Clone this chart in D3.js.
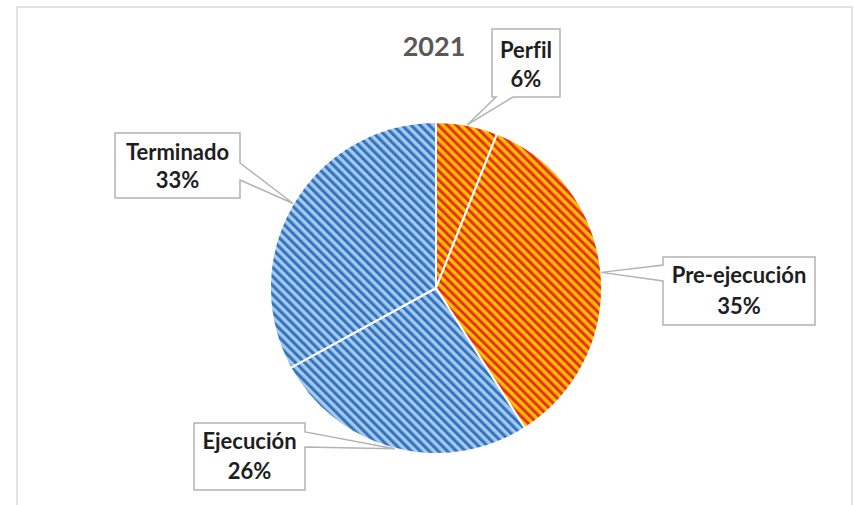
<!DOCTYPE html>
<html><head><meta charset="utf-8">
<script src="https://cdn.jsdelivr.net/npm/d3@7"></script>
<style>html,body{margin:0;padding:0;background:#fff;}svg{display:block;}text{font-variant-ligatures:none;font-feature-settings:"liga" 0;}</style>
</head><body>
<svg id="chart" width="854" height="505"></svg>
<script>
// ---- data ----
const title = "2021";
const categories = ["Perfil", "Pre-ejecución", "Ejecución", "Terminado"];
const values = [6, 35, 26, 33];
const valueLabels = ["6%", "35%", "26%", "33%"];

// ---- layout / style (not data) ----
const W = 854, H = 505;
const cx = 436, cy = 288, R = 166;
const fills = [
  {bg: "#ffc000", fg: "#e9301e"},
  {bg: "#ffc000", fg: "#e9301e"},
  {bg: "#a9c8ec", fg: "#2f76c2"},
  {bg: "#a9c8ec", fg: "#2f76c2"}
];
// callout boxes: x0,x1,y0,y1, wedge side and base span
const boxes = [
  {x0: 492, x1: 560, y0: 29, y1: 97, side: "bottom", a: 496, b: 513, l1: 58, l2: 87},
  {x0: 663, x1: 815, y0: 257, y1: 325, side: "left", a: 265, b: 281, l1: 283, l2: 314},
  {x0: 194, x1: 305, y0: 423, y1: 490, side: "right", a: 432, b: 447, l1: 449, l2: 479},
  {x0: 115, x1: 240, y0: 133, y1: 198, side: "right", a: 163, b: 180, l1: 160, l2: 188}
];

const svg = d3.select("#chart");
const defs = svg.append("defs");
const P = 6.4;
fills.forEach((f, i) => {
  const p = defs.append("pattern").attr("id", "pat" + i)
    .attr("patternUnits", "userSpaceOnUse").attr("width", P).attr("height", 10)
    .attr("patternTransform", "rotate(-45)");
  p.append("rect").attr("width", P).attr("height", 10).attr("fill", f.bg);
  p.append("rect").attr("width", P * 0.48).attr("height", 10).attr("fill", f.fg);
});

svg.append("rect").attr("width", W).attr("height", H).attr("fill", "#fff");
// chart area border
svg.append("rect").attr("x", 17).attr("y", 7).attr("width", 835).attr("height", 520)
  .attr("fill", "none").attr("stroke", "#d9d9d9").attr("stroke-width", 1.5);

// title
svg.append("text").attr("x", 434).attr("y", 56).attr("text-anchor", "middle")
  .attr("font-family", "Lato, 'Open Sans', sans-serif").attr("font-weight", 700)
  .attr("font-size", 27).attr("fill", "#595959").text(title);

const pie = d3.pie().sort(null).value(d => d)(values);
const arc = d3.arc().innerRadius(0).outerRadius(R);
const g = svg.append("g").attr("transform", `translate(${cx},${cy})`);
g.selectAll("path").data(pie).join("path")
  .attr("d", arc).attr("fill", (d, i) => `url(#pat${i})`)
  .attr("stroke", "#fff").attr("stroke-width", 2).attr("stroke-linejoin", "round");

// callouts
pie.forEach((d, i) => {
  const b = boxes[i];
  const mid = (d.startAngle + d.endAngle) / 2;
  const tx = cx + R * Math.sin(mid), ty = cy - R * Math.cos(mid);
  let pts;
  if (b.side === "bottom") {
    pts = [[b.x0,b.y0],[b.x1,b.y0],[b.x1,b.y1],[b.b,b.y1],[tx,ty],[b.a,b.y1],[b.x0,b.y1]];
  } else if (b.side === "left") {
    pts = [[b.x0,b.y0],[b.x1,b.y0],[b.x1,b.y1],[b.x0,b.y1],[b.x0,b.b],[tx,ty],[b.x0,b.a]];
  } else {
    pts = [[b.x0,b.y0],[b.x1,b.y0],[b.x1,b.a],[tx,ty],[b.x1,b.b],[b.x1,b.y1],[b.x0,b.y1]];
  }
  svg.append("path").attr("d", "M" + pts.map(p => p.join(",")).join("L") + "Z")
    .attr("fill", "#fff").attr("stroke", "#b3b3b3").attr("stroke-width", 1.5)
    .attr("stroke-linejoin", "miter");
  const mx = (b.x0 + b.x1) / 2;
  const t = svg.append("g").attr("font-family", "Lato, 'Open Sans', sans-serif")
    .attr("font-weight", 700).attr("font-size", 22).attr("fill", "#1e1e1e")
    .attr("text-anchor", "middle");
  t.append("text").attr("x", mx).attr("y", b.l1).text(categories[i]);
  t.append("text").attr("x", mx).attr("y", b.l2).text(valueLabels[i]);
});
</script>
</body></html>
